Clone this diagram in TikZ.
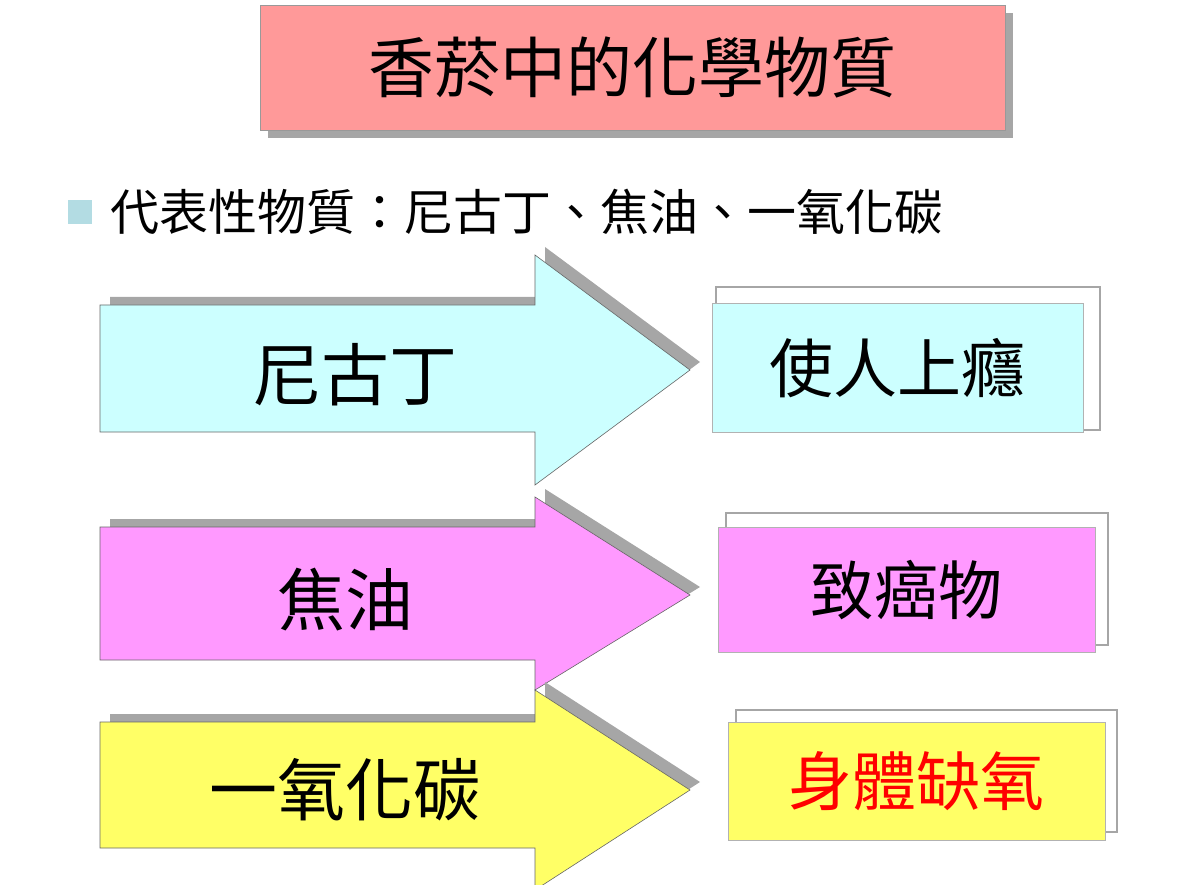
\documentclass[tikz,border=0pt]{standalone}
\usepackage{fontspec}
\newfontfamily\cjk{Noto Sans CJK TC}
\definecolor{titlepink}{HTML}{FF9999}
\definecolor{nicocyan}{HTML}{CCFFFF}
\definecolor{tarpink}{HTML}{FF99FF}
\definecolor{coyellow}{HTML}{FFFF66}
\definecolor{bulletblue}{HTML}{B3DCE3}
\definecolor{shadowgray}{HTML}{A6A6A6}
\begin{document}
\begin{tikzpicture}[
    x=1pt, y=-1pt,
    bigarrow/.style={draw=black!60, line width=0.6pt},
    shadow/.style={fill=shadowgray},
    frame/.style={draw=shadowgray, line width=1.5pt},
    label/.style={font=\cjk\fontsize{68}{76}\selectfont, inner sep=0pt},
    result/.style={draw=black!30, line width=0.6pt, font=\cjk\fontsize{64}{72}\selectfont, inner sep=0pt}
]
    \useasboundingbox (0,0) rectangle (1181,885);

    % title
    \fill[shadow] (268,13) rectangle (1013,138);
    \node[draw=black!40, fill=titlepink, minimum width=745pt, minimum height=125pt,
          anchor=north west, font=\cjk\fontsize{66}{74}\selectfont] (title) at (260,5) {香菸中的化學物質};

    % bullet line
    \fill[bulletblue] (68,200) rectangle (92,224);
    \node[anchor=west, font=\cjk\fontsize{49}{56}\selectfont, inner sep=0pt] (intro) at (110,212)
        {代表性物質：尼古丁、焦油、一氧化碳};

    % arrows: body top, body bottom, head top, head bottom, tip y
    \foreach \yt/\yb/\ht/\hb/\tip/\col/\name in {
        305/432/255/485/370/nicocyan/arrA,
        527/660/497/690/595/tarpink/arrB,
        722/848/690/890/790/coyellow/arrC}{
        \fill[shadow] (110,\yt-8) -- (545,\yt-8) -- (545,\ht-8) -- (700,\tip-8)
            -- (545,\hb-8) -- (545,\yb-8) -- (110,\yb-8) -- cycle;
        \draw[bigarrow, fill=\col] (100,\yt) -- (535,\yt) -- (535,\ht) -- (690,\tip)
            -- (535,\hb) -- (535,\yb) -- (100,\yb) -- cycle;
    }
    \node[label] (nicotine) at (355,375) {尼古丁};
    \node[label] (tar) at (345,600) {焦油};
    \node[label] (carbon) at (345,790) {一氧化碳};

    % results
    \draw[frame] (716,287) rectangle (1100,430);
    \node[result, fill=nicocyan, minimum width=371pt, minimum height=129pt, anchor=north west]
        (addict) at (712,303) {使人上癮};
    \draw[frame] (726,513) rectangle (1108,645);
    \node[result, fill=tarpink, minimum width=377pt, minimum height=125pt, anchor=north west]
        (cancer) at (718,527) {致癌物};
    \draw[frame] (736,710) rectangle (1117,832);
    \node[result, fill=coyellow, text=red, minimum width=377pt, minimum height=118pt, anchor=north west]
        (hypoxia) at (728,722) {身體缺氧};
\end{tikzpicture}
\end{document}
